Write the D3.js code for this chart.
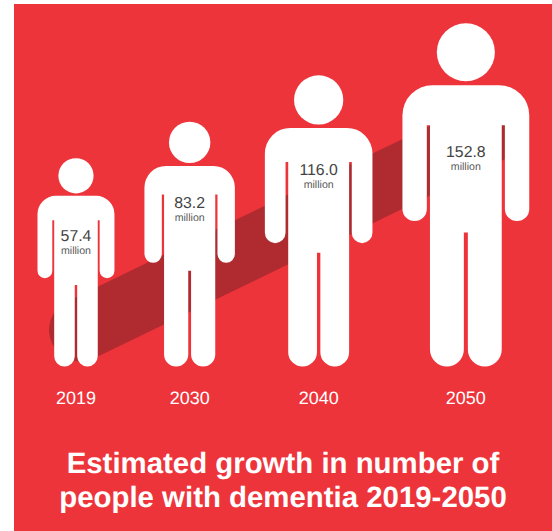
<!DOCTYPE html>
<html>
<head>
<meta charset="utf-8">
<title>Estimated growth in number of people with dementia 2019-2050</title>
<script src="https://cdn.jsdelivr.net/npm/d3@7"></script>
<style>
  html, body { margin: 0; padding: 0; background: #fff; }
  svg { display: block; }
  text { font-family: "Liberation Sans", Arial, sans-serif; text-rendering: geometricPrecision; }
</style>
</head>
<body>
<svg id="chart" width="552" height="531"></svg>
<script>
// Projected cases per year, in millions
const years = [2019, 2030, 2040, 2050];
const cases = [57.4, 83.2, 116.0, 152.8];
const valueLabels = ["57.4", "83.2", "116.0", "152.8"];
const unitLabel = "million";
const titleLines = ["Estimated growth in number of", "people with dementia 2019-2050"];

const RED = "#ee343b";
const DARK = "#b02b30";
const W = 552, H = 531;

// Person glyph, in units where its full height is 343
const G = { height: 343, headR: 29, top: 62, half: 63.35, shoulder: 30, armW: 24.35,
            armEnd: 197.7, armpit: 102, torso: 35.85, crotch: 209, slit: 2 };

function personPath() {
  const p = d3.path();
  const armR = G.armW / 2, legR = (G.torso - G.slit) / 2;
  const inner = G.half - G.armW;
  p.moveTo(-G.half + G.shoulder, G.top);
  p.lineTo(G.half - G.shoulder, G.top);
  p.arc(G.half - G.shoulder, G.top + G.shoulder, G.shoulder, -Math.PI / 2, 0);
  p.lineTo(G.half, G.armEnd - armR);
  p.arc(G.half - armR, G.armEnd - armR, armR, 0, Math.PI);
  p.lineTo(inner, G.armpit);
  p.lineTo(G.torso, G.armpit);
  p.lineTo(G.torso, G.height - legR);
  p.arc(G.torso - legR, G.height - legR, legR, 0, Math.PI);
  p.lineTo(G.slit, G.crotch);
  p.lineTo(-G.slit, G.crotch);
  p.lineTo(-G.slit, G.height - legR);
  p.arc(-G.torso + legR, G.height - legR, legR, 0, Math.PI);
  p.lineTo(-G.torso, G.armpit);
  p.lineTo(-inner, G.armpit);
  p.lineTo(-inner, G.armEnd - armR);
  p.arc(-G.half + armR, G.armEnd - armR, armR, 0, Math.PI);
  p.lineTo(-G.half, G.top + G.shoulder);
  p.arc(-G.half + G.shoulder, G.top + G.shoulder, G.shoulder, Math.PI, 1.5 * Math.PI);
  p.closePath();
  return p.toString();
}

// Figure height grows linearly with the value, feet on a shared ground line
const GROUND = 366.5;
const heightScale = d3.scaleLinear().domain([57.4, 152.8]).range([208.3, 343.3]);
const people = [];
let cursor = 37.5;
cases.forEach((v, i) => {
  const h = heightScale(v), s = h / G.height, w = 2 * G.half * s;
  people.push({ year: years[i], label: valueLabels[i], h, s, cx: cursor + w / 2 });
  cursor += w + 30;
});

const svg = d3.select("#chart");
svg.append("rect").attr("x", 14).attr("y", 4).attr("width", W - 14).attr("height", H - 4).attr("fill", RED);

// Broad rising band behind the figures
const bandX = d3.scaleLinear().domain([2019, 2050]).range([80.5, 490]);
const bandY = d3.scaleLinear().domain([57.4, 152.8]).range([330, 131.5]);
const band = d3.line().x(d => bandX(d[0])).y(d => bandY(d[1]));
svg.append("path")
  .attr("d", band([[years[0], cases[0]], [years[3], cases[3]]]))
  .attr("fill", "none").attr("stroke", DARK).attr("stroke-width", 63).attr("stroke-linecap", "round");

const glyph = personPath();
const figures = svg.selectAll("g.person").data(people).join("g")
  .attr("class", "person")
  .attr("transform", d => `translate(${d.cx},${GROUND - d.h}) scale(${d.s})`);
figures.append("circle").attr("cx", 0).attr("cy", G.headR).attr("r", G.headR).attr("fill", "#fff");
figures.append("path").attr("d", glyph).attr("fill", "#fff");

// Value captions sit a little below each figure's armpit line
const captionDrop = [21, 13.5, 13.5, 31.5];
const captionY = (d, i) => GROUND - d.h + G.armpit * d.s + captionDrop[i];
svg.selectAll("text.value").data(people).join("text")
  .attr("class", "value").attr("x", d => d.cx).attr("y", captionY)
  .attr("text-anchor", "middle").attr("font-size", 15.8).attr("fill", "#434343")
  .text(d => d.label);
svg.selectAll("text.unit").data(people).join("text")
  .attr("class", "unit").attr("x", d => d.cx).attr("y", (d, i) => captionY(d, i) + 13)
  .attr("text-anchor", "middle").attr("font-size", 10.6).attr("fill", "#595959")
  .text(unitLabel);

svg.selectAll("text.year").data(people).join("text")
  .attr("class", "year").attr("x", d => d.cx).attr("y", 404)
  .attr("text-anchor", "middle").attr("font-size", 18).attr("fill", "#fff")
  .text(d => d.year);

svg.selectAll("text.title").data(titleLines).join("text")
  .attr("class", "title").attr("x", 283).attr("y", (d, i) => 473 + i * 34)
  .attr("text-anchor", "middle").attr("font-size", 29.4).attr("font-weight", 700).attr("fill", "#fff")
  .text(d => d);
</script>
</body>
</html>
